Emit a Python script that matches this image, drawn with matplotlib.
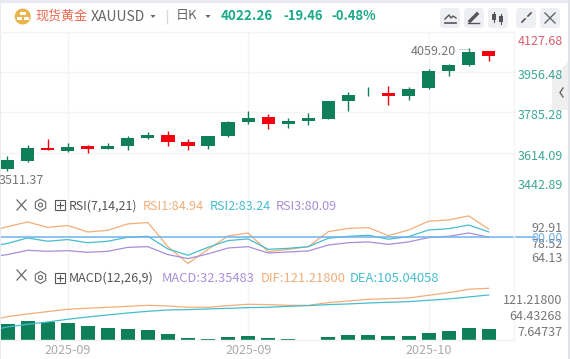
import matplotlib
matplotlib.use('Agg')
import matplotlib.pyplot as plt
from matplotlib.patches import Circle, FancyBboxPatch, Polygon, RegularPolygon, Rectangle
import numpy as np

plt.rcParams['font.family'] = ['Noto Sans CJK SC', 'DejaVu Sans']

# data
opens = [3546, 3580, 3635, 3623, 3644, 3631, 3644, 3677, 3690, 3661, 3644, 3686, 3745,
         3766, 3737, 3749, 3758, 3834, 3858, 3868, 3855, 3889, 3961, 3986, 4045]
closes = [3584, 3635, 3628, 3639, 3631, 3644, 3677, 3690, 3661, 3644, 3686, 3745, 3762,
          3737, 3749, 3762, 3834, 3859, 3861, 3855, 3885, 3961, 3986, 4041, 4022.26]
highs = [3601, 3648, 3673, 3656, 3648, 3656, 3686, 3703, 3707, 3673, 3686, 3749, 3792,
         3779, 3762, 3783, 3834, 3872, 3893, 3897, 3893, 3969, 3990, 4059.2, 4045]
lows = [3538, 3576, 3627, 3620, 3614, 3629, 3627, 3673, 3644, 3627, 3631, 3682, 3737,
        3716, 3720, 3732, 3758, 3792, 3855, 3817, 3838, 3885, 3940, 3982, 4003]

# one extra point in front, it starts off the left edge
rsi1 = [83.2, 86.4, 89.3, 86.0, 87.1, 83.2, 84.2, 88.1, 88.9, 74.3, 64.13, 72.7, 80.8,
        82.6, 71.3, 72.7, 74.3, 83.4, 85.4, 85.8, 81.0, 84.4, 89.7, 90.5, 92.91, 84.94]
rsi2 = [73.9, 76.3, 79.6, 77.6, 78.6, 76.7, 77.6, 80.0, 80.6, 72.9, 69.1, 73.9, 78.0,
        79.0, 72.7, 73.3, 74.3, 79.4, 80.6, 81.2, 78.8, 80.4, 84.4, 85.2, 87.4, 83.24]
rsi3 = [67.9, 69.5, 72.1, 71.5, 71.9, 70.9, 71.5, 73.9, 74.3, 69.5, 67.1, 69.9, 73.5,
        74.3, 70.5, 71.1, 71.7, 75.3, 76.7, 77.2, 75.7, 77.2, 79.8, 80.6, 82.6, 80.09]
dif = [41.5, 52.1, 58.6, 64.3, 70.0, 72.5, 74.9, 77.3, 79.7, 78.1, 74.9, 74.9, 78.9,
       82.2, 81.4, 79.7, 79.7, 86.2, 90.3, 94.4, 96.0, 97.6, 104.1, 110.6, 118.8, 121.218]
dea = [17.1, 26.9, 33.4, 39.1, 45.6, 51.3, 56.2, 61.0, 65.1, 68.4, 69.2, 70.8, 72.4,
       74.1, 74.9, 77.3, 78.9, 81.4, 83.0, 85.4, 87.1, 88.7, 92.0, 95.2, 100.1, 105.04]
macd = [47.0, 55.9, 52.9, 50.0, 41.2, 35.3, 32.3, 29.4, 17.6, 5.9, 2.9, 8.8, 11.8,
        5.9, 2.9, 1.0, 8.8, 14.7, 14.7, 11.8, 11.8, 20.6, 26.5, 35.3, 32.35]

price_ticks = [3956.48, 3785.28, 3614.09]
date_idx = [3, 12, 21]
date_labels = ['2025-09', '2025-09', '2025-10']

W, H = 570, 359
GREEN = '#0f7f5a'
RED = '#f5000f'
ORANGE = '#f2ae78'
TEAL = '#45bdcf'
PURPLE = '#a88fd8'
BLUE = '#6fb1ea'
GRAY = '#777777'
GRID = '#f4f4f4'

fig = plt.figure(figsize=(W / 100, H / 100), dpi=100, facecolor='white')


def panel(top, bottom):
    ax = fig.add_axes([0, 1 - bottom / H, 514 / W, (bottom - top) / H])
    ax.set_xlim(-0.374, 25.26)
    ax.patch.set_alpha(0)
    for s in ax.spines.values():
        s.set_visible(False)
    ax.tick_params(left=False, bottom=False, labelleft=False, labelbottom=False)
    ax.set_xticks(date_idx)
    ax.grid(True, color=GRID, lw=1)
    ax.set_axisbelow(True)
    return ax


idx = np.arange(25)
idx2 = np.arange(-1, 25)

# candles
ax = panel(32, 194)
ax.set_ylim(3440.8, 4125.5)
ax.set_yticks(price_ticks)
cols = [GREEN if c >= o else RED for o, c in zip(opens, closes)]
ax.vlines(idx, lows, highs, colors=cols, lw=1)
ax.bar(idx, np.abs(np.array(closes) - np.array(opens)), bottom=np.minimum(opens, closes),
       width=0.66, color=cols)

# RSI
ax2 = panel(194, 266)
ax2.set_ylim(62.6, 106.2)
ax2.set_yticks([])
ax2.plot(idx2, rsi1, color=ORANGE, lw=0.9)
ax2.plot(idx2, rsi2, color=TEAL, lw=0.9)
ax2.plot(idx2, rsi3, color=PURPLE, lw=0.9)
ax2.plot([-0.374, 26.3], [80, 80], color=BLUE, lw=1.1, clip_on=False)

# MACD, bars have their own scale
ax3 = panel(266, 340)
ax3.set_ylim(0, 217.6)
ax3.set_yticks([])
ax3.bar(idx, macd, width=0.7, color=GREEN)
ax4 = panel(266, 340)
ax4.grid(False)
ax4.set_ylim(-4.9, 175.6)
ax4.plot(idx2, dif, color=ORANGE, lw=0.9)
ax4.plot(idx2, dea, color=TEAL, lw=0.9)

# everything around the plots, in pixels
bg = fig.add_axes([0, 0, 1, 1])
bg.set_xlim(0, W)
bg.set_ylim(H, 0)
bg.axis('off')
bg.patch.set_alpha(0)


def txt(x, y, s, color=GRAY, size=9, ha='left', **kw):
    # the CJK font sits a bit high when centred
    bg.text(x, y + 1.2, s, color=color, fontsize=size, ha=ha, va='center', **kw)


bg.add_patch(Rectangle((0, 0), W, 2.5, color='#e8eaf1', lw=0))
bg.add_patch(Rectangle((0, 0), 1.2, H, color='#e8eaf1', lw=0))
bg.add_patch(Rectangle((568, 0), 2, H, color='#dfe1e6', lw=0))
for y in [32, 340]:
    bg.plot([0, 514], [y, y], color=GRID, lw=1)
bg.plot([514, 514], [32, 340], color=GRID, lw=1)

# header
bg.add_patch(Circle((22.7, 16.5), 8, color='#e9b44c', lw=0))
bg.add_patch(Rectangle((19.5, 12), 6, 3, color='white', lw=0))
bg.add_patch(Rectangle((16.5, 17), 5.5, 3, color='white', lw=0))
bg.add_patch(Rectangle((23.5, 17), 5.5, 3, color='white', lw=0))
txt(35, 14.5, '现货黄金', color='#e8694f', size=9.4)
txt(91, 15.5, 'XAUUSD', color='#666666', size=10)
bg.add_patch(Polygon([[150.5, 15], [155.5, 15], [153, 18]], color='#666666', lw=0))
bg.plot([166.5, 166.5], [10, 23], color='#d8d8d8', lw=1)
txt(176, 14.5, '日K', color='#666666', size=9.4)
bg.add_patch(Polygon([[205.5, 15], [210.5, 15], [208, 18]], color='#666666', lw=0))
txt(221, 14.5, '4022.26', color='#1aa98a', size=9.7, fontweight='bold')
txt(283, 14.5, '-19.46', color='#1aa98a', size=9.4, fontweight='bold')
txt(331, 14.5, '-0.48%', color='#1aa98a', size=9.4, fontweight='bold')

# toolbar buttons
for x0 in [440, 464, 488, 516, 540]:
    bg.add_patch(FancyBboxPatch((x0 + 2, 10), 16, 16, boxstyle='round,pad=2,rounding_size=4',
                                fc='#eeeff3', ec='none'))
bg.plot([445, 449, 451, 453, 456], [19, 15, 18, 16, 18], color='#555555', lw=1)
bg.plot([445, 456], [22.5, 22.5], color='#555555', lw=1.2)
bg.plot([470, 477], [21, 14], color='#555555', lw=2.4)
bg.plot([468, 479], [23, 23], color='#555555', lw=1)
bg.plot([494, 494], [12, 22], color='#555555', lw=0.8)
bg.add_patch(Rectangle((492, 14), 4, 6, color='#555555', lw=0))
bg.plot([501, 501], [14, 24], color='#555555', lw=0.8)
bg.add_patch(Rectangle((499, 16), 4, 6, color='#555555', lw=0))
bg.plot([522, 525], [22, 19], color='#555555', lw=1.2)
bg.plot([528, 531], [16, 13], color='#555555', lw=1.2)
bg.plot([545, 555], [13, 23], color='#666666', lw=1)
bg.plot([545, 555], [23, 13], color='#666666', lw=1)

# price axis
txt(563, 40, '4127.68', color='#d65f6f', ha='right')
for y, s in zip([74.5, 114.5, 155.5, 184.5], ['3956.48', '3785.28', '3614.09', '3442.89']):
    txt(563, y, s, color='#3fa796', ha='right')
txt(-1, 179, '3511.37')
txt(456, 50.5, '4059.20', ha='right')
bg.plot([459, 468, 469, 469], [49, 49, 49, 52], color='#888888', lw=0.7, ls=':')

# side handle
bg.add_patch(Polygon([[568, 62], [568, 110], [552, 110], [552, 78]], color='#efefef', lw=0))
bg.plot([563, 560, 563], [88, 92.5, 97], color='#666666', lw=1)

# RSI header
bg.plot([17, 26], [200, 210], color='#666666', lw=0.9)
bg.plot([17, 26], [210, 200], color='#666666', lw=0.9)
bg.plot([17, 26], [270, 280], color='#666666', lw=0.9)
bg.plot([17, 26], [280, 270], color='#666666', lw=0.9)
for y in [205, 277.5]:
    bg.add_patch(RegularPolygon((40.5, y), 6, radius=6, fc='none', ec='#666666', lw=0.8))
    bg.add_patch(Circle((40.5, y), 2, fc='none', ec='#666666', lw=0.8))
    bg.add_patch(Rectangle((55, y - 5), 10, 10, fc='none', ec='#555555', lw=0.8))
    bg.plot([60, 60], [y - 3, y + 3], color='#555555', lw=0.8)
    bg.plot([57, 63], [y, y], color='#555555', lw=0.8)
txt(69, 205, 'RSI(7,14,21)', color='#555555', size=8.9)
txt(143, 205, 'RSI1:84.94', color=ORANGE, size=9.1)
txt(210, 205, 'RSI2:83.24', color=TEAL, size=9.1)
txt(276, 205, 'RSI3:80.09', color=PURPLE, size=9.1)

txt(563, 227.7, '92.91', ha='right')
txt(563, 243.3, '78.52', ha='right')
txt(563, 257.7, '64.13', ha='right')
txt(563, 237.7, '80.00', color=BLUE, ha='right')

# MACD header
txt(69, 277, 'MACD(12,26,9)', color='#555555', size=9)
txt(162, 277, 'MACD:32.35483', color=PURPLE, size=9.3)
txt(261, 277, 'DIF:121.21800', color=ORANGE, size=9.3)
txt(350, 277, 'DEA:105.04058', color=TEAL, size=9.3)
txt(562, 299.5, '121.21800', ha='right')
txt(562, 315.5, '64.43268', ha='right')
txt(562, 331.5, '7.64737', ha='right')

for x0, s in zip([68, 248.5, 429], date_labels):
    txt(x0, 349, s, color='#aaaaaa', ha='center')

fig.savefig('out.png', dpi=100)
